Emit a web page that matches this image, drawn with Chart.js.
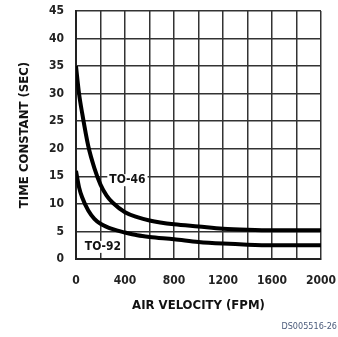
<!DOCTYPE html>
<html>
<head>
<meta charset="utf-8">
<script src="https://cdn.jsdelivr.net/npm/chart.js@4/dist/chart.umd.min.js"></script>
<style>
  html, body { margin: 0; padding: 0; background: #fff; }
  #wrap { width: 338px; height: 337px; position: relative; }
</style>
</head>
<body>
<div id="wrap"><canvas id="chart"></canvas></div>
<script>
// values
const to46Fpm = [0, 25, 50, 100, 150, 200, 250, 300, 400, 500, 600, 800, 1000, 1200, 1400, 1600, 1800, 2000];
const to46Sec = [35, 30, 26.5, 20.5, 16.5, 13.5, 11.5, 10.2, 8.5, 7.6, 7.0, 6.3, 5.9, 5.5, 5.3, 5.2, 5.2, 5.2];
const to92Fpm = [0, 25, 50, 100, 150, 200, 300, 400, 500, 600, 800, 1000, 1200, 1400, 1600, 2000];
const to92Sec = [16, 13, 11.2, 8.8, 7.3, 6.4, 5.4, 4.8, 4.3, 4.0, 3.6, 3.1, 2.8, 2.6, 2.5, 2.5];
const xTicks = [0, 400, 800, 1200, 1600, 2000];
const curveLabels = [
  { text: 'TO-46', x: 420, y: 14.3 },
  { text: 'TO-92', x: 220, y: 2.2 },
];
const footer = 'DS005516-26';

const FONT = "'DejaVu Sans Condensed', 'Liberation Sans Narrow', 'Arial Narrow', sans-serif";

function pts(xs, ys){ return xs.map((x, i) => ({ x: x, y: ys[i] })); }

// curve labels with white box + footer id
const annot = {
  id: 'annot',
  afterDatasetsDraw(c){
    const ctx = c.ctx, xs = c.scales.x, ys = c.scales.y;
    ctx.save();
    ctx.font = 'bold 12px ' + FONT;
    ctx.textAlign = 'center';
    ctx.textBaseline = 'middle';
    for (const l of curveLabels) {
      const px = xs.getPixelForValue(l.x), py = ys.getPixelForValue(l.y);
      const w = ctx.measureText(l.text).width + 4;
      ctx.fillStyle = '#fff';
      ctx.fillRect(px - w / 2, py - 6, w, 12);
      ctx.fillStyle = '#111';
      ctx.fillText(l.text, px, py);
    }
    ctx.font = '9px ' + FONT;
    ctx.fillStyle = '#4a5a7a';
    ctx.textAlign = 'right';
    ctx.fillText(footer, 337, 327);
    ctx.restore();
  }
};

new Chart(document.getElementById('chart'), {
  type: 'line',
  data: {
    datasets: [
      { label: 'TO-46', data: pts(to46Fpm, to46Sec), borderColor: '#000', borderWidth: 4, pointRadius: 0, tension: 0.4, cubicInterpolationMode: 'monotone' },
      { label: 'TO-92', data: pts(to92Fpm, to92Sec), borderColor: '#000', borderWidth: 4, pointRadius: 0, tension: 0.4, cubicInterpolationMode: 'monotone' },
    ],
  },
  options: {
    animation: false,
    responsive: true,
    maintainAspectRatio: false,
    layout: { padding: { top: 11, right: 17, bottom: 20, left: 13 } },
    plugins: { legend: { display: false }, tooltip: { enabled: false } },
    scales: {
      x: {
        type: 'linear', min: 0, max: 2000,
        afterBuildTicks: (s) => { s.ticks = []; for (let v = 0; v <= 2000; v += 200) s.ticks.push({ value: v }); },
        afterFit: (s) => { s.height = 58; s.paddingLeft = 0; s.paddingRight = 0; },
        grid: { color: '#333', lineWidth: 1.5, drawTicks: false },
        border: { color: '#222', width: 2 },
        ticks: {
          padding: 15, maxRotation: 0, autoSkip: false,
          color: '#222', font: { family: FONT, size: 12, weight: 'bold' },
          callback: (v) => xTicks.includes(v) ? String(v) : '',
        },
        title: { display: true, text: 'AIR VELOCITY (FPM)', color: '#111', padding: { top: 6, bottom: 4 }, font: { family: FONT, size: 13, weight: 'bold' } },
      },
      y: {
        type: 'linear', min: 0, max: 45,
        afterFit: (s) => { s.width = 63; s.paddingTop = 0; s.paddingBottom = 0; },
        grid: { color: '#333', lineWidth: 1.5, drawTicks: false },
        border: { color: '#222', width: 2 },
        ticks: { stepSize: 5, padding: 12, color: '#222', font: { family: FONT, size: 12, weight: 'bold' } },
        title: { display: true, text: 'TIME CONSTANT (SEC)', color: '#111', padding: { bottom: 8 }, font: { family: FONT, size: 13, weight: 'bold' } },
      },
    },
  },
  plugins: [annot],
});
</script>
</body>
</html>
